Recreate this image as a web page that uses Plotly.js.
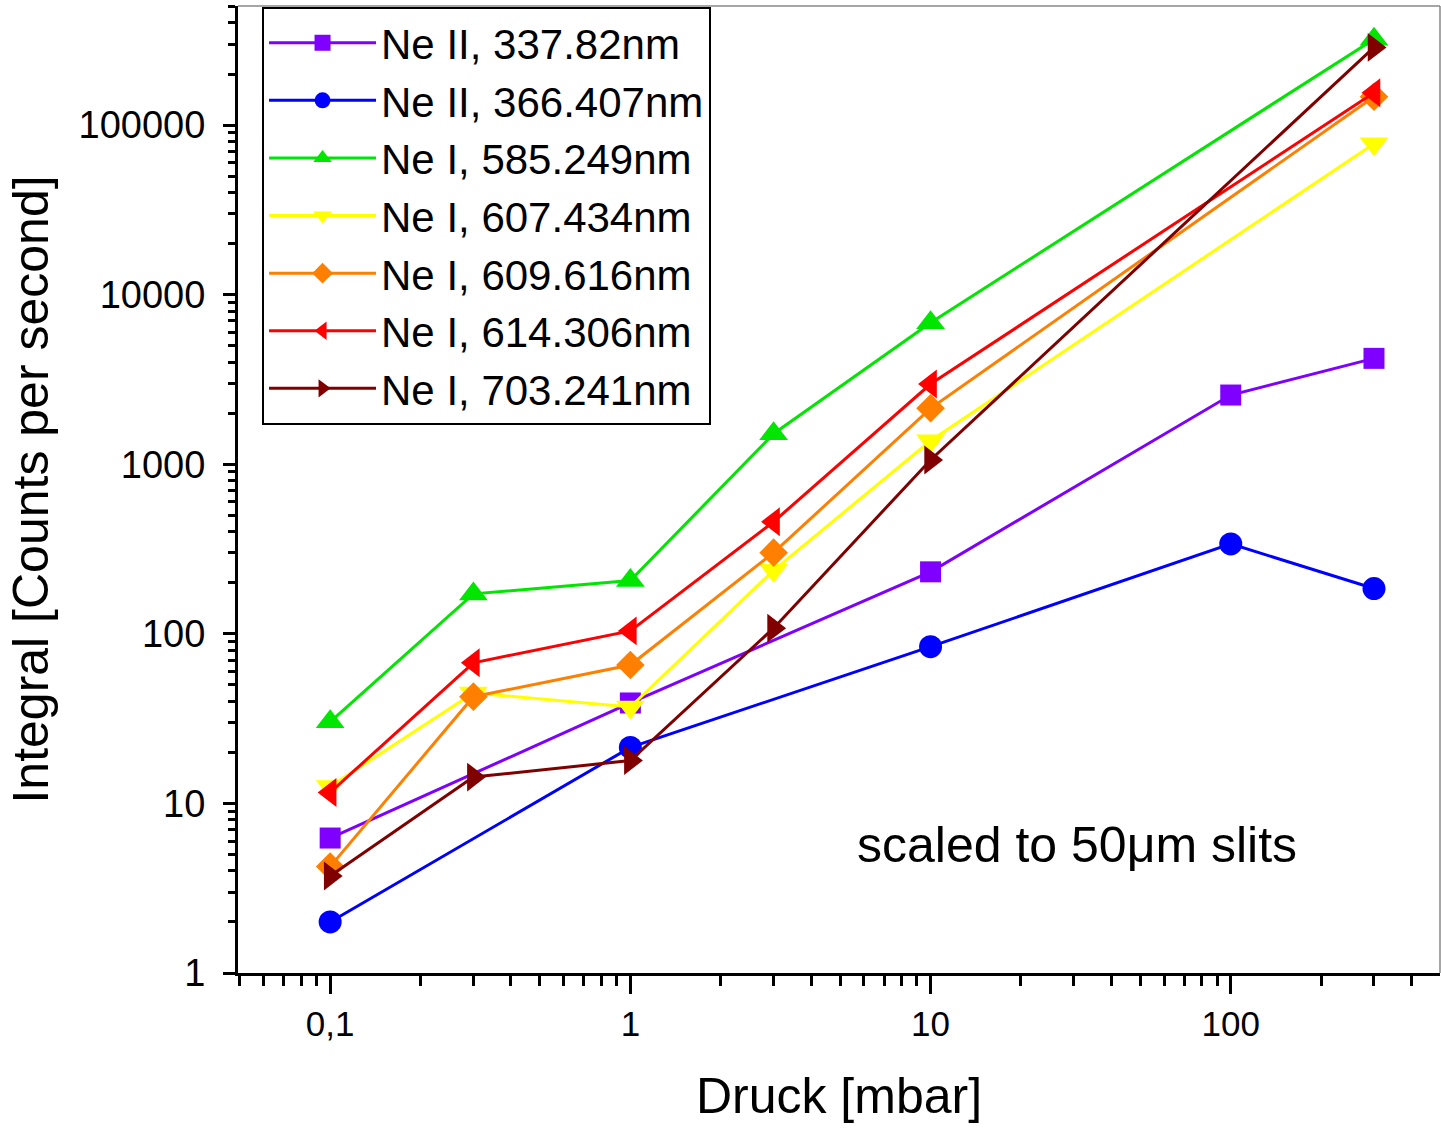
<!DOCTYPE html>
<html>
<head>
<meta charset="utf-8">
<script src="https://cdn.plot.ly/plotly-3.0.1.min.js"></script>
<style>html,body{margin:0;padding:0;background:#fff;}#chart{width:1441px;height:1128px;}</style>
</head>
<body>
<div id="chart"></div>
<script>
// Pressure values [mbar]
const pressure = [0.1, 0.3, 1, 3, 10, 100, 300];

// Series names
const seriesNames = [
  "Ne II, 337.82nm",
  "Ne II, 366.407nm",
  "Ne I, 585.249nm",
  "Ne I, 607.434nm",
  "Ne I, 609.616nm",
  "Ne I, 614.306nm",
  "Ne I, 703.241nm"
];

// Values (counts per second); null = no measurement
const neII_337 = [6.25, null, 39.1, null, 232, 2559, 4210];
const neII_366 = [2.0, null, 21.4, null, 84, 339, 185];
const neI_585  = [30.3, 172, 206, 1513, 6830, null, 321000];
const neI_607  = [12.6, 44.8, 37, 237, 1376, null, 77600];
const neI_609  = [4.24, 42.6, 65.5, 301, 2137, null, 147000];
const neI_614  = [11.6, 67.5, 104, 458, 2971, null, 155000];
const neI_703  = [3.73, 14.3, 17.9, 108, 1059, null, 287000];

const seriesValues = [neII_337, neII_366, neI_585, neI_607, neI_609, neI_614, neI_703];

const colors  = ["#7F00FF", "#0000FF", "#00E600", "#FFFF00", "#FF8000", "#FF0000", "#800000"];
const symbols = ["square", "circle", "triangle-up", "triangle-down", "diamond", "triangle-left", "triangle-right"];
const sizes   = [21, 23, 25, 25, 22, 25, 25];

const xTickVals = [0.1, 1, 10, 100];
const xTickText = ["0,1", "1", "10", "100"];
const yTickVals = [1, 10, 100, 1000, 10000, 100000];
const yTickText = ["1", "10", "100", "1000", "10000", "100000"];

const traces = seriesNames.map((name, i) => {
  const xs = [], ys = [];
  pressure.forEach((p, j) => {
    if (seriesValues[i][j] !== null) { xs.push(p); ys.push(seriesValues[i][j]); }
  });
  return {
    type: "scatter",
    mode: "lines+markers",
    name: name,
    x: xs,
    y: ys,
    line: {color: colors[i], width: 3},
    marker: {color: colors[i], symbol: symbols[i], size: sizes[i], line: {width: 0}}
  };
});

const FONT = "Liberation Sans, Arial, sans-serif";

const layout = {
  width: 1441,
  height: 1128,
  margin: {l: 238, r: 1, t: 6, b: 155, pad: 0},
  paper_bgcolor: "#ffffff",
  plot_bgcolor: "#ffffff",
  font: {family: FONT, color: "#000000"},
  showlegend: true,
  legend: {
    x: 0.02, y: 0.999, xanchor: "left", yanchor: "top",
    bgcolor: "#ffffff", bordercolor: "#000000", borderwidth: 2,
    font: {family: FONT, size: 42, color: "#000000"},
    itemwidth: 107,
    tracegroupgap: 0
  },
  xaxis: {
    type: "log",
    range: [-1.307, 2.697],
    showgrid: false, zeroline: false,
    showline: true, linecolor: "#000000", linewidth: 3,
    ticks: "outside", ticklen: 18, tickwidth: 3, tickcolor: "#000000",
    tickvals: xTickVals, ticktext: xTickText,
    tickfont: {family: FONT, size: 35, color: "#000000"},
    minor: {ticks: "outside", ticklen: 10, tickwidth: 3, tickcolor: "#000000", dtick: "D1", showgrid: false},
    title: {text: "Druck [mbar]", font: {family: FONT, size: 50, color: "#000000"}, standoff: 36},
    automargin: false
  },
  yaxis: {
    type: "log",
    range: [0, 5.702],
    showgrid: false, zeroline: false,
    showline: true, linecolor: "#000000", linewidth: 3,
    ticks: "outside", ticklen: 12, tickwidth: 3, tickcolor: "#000000",
    tickvals: yTickVals, ticktext: yTickText,
    tickfont: {family: FONT, size: 38, color: "#000000"},
    ticklabelstandoff: 10,
    minor: {ticks: "outside", ticklen: 7, tickwidth: 3, tickcolor: "#000000", dtick: "D1", showgrid: false},
    title: {text: "Integral [Counts per second]", font: {family: FONT, size: 50, color: "#000000"}, standoff: 15},
    automargin: false
  },
  shapes: [
    {type: "line", xref: "paper", yref: "paper", x0: 0, x1: 1, y0: 1, y1: 1, line: {color: "#888888", width: 1.5}},
    {type: "line", xref: "paper", yref: "paper", x0: 1, x1: 1, y0: 0, y1: 1, line: {color: "#888888", width: 1.5}}
  ],
  annotations: [
    {xref: "paper", yref: "paper", x: 0.698, y: 0.132, xanchor: "center", yanchor: "middle",
     text: "scaled to 50μm slits", showarrow: false,
     font: {family: FONT, size: 50, color: "#000000"}}
  ]
};

Plotly.newPlot("chart", traces, layout, {displayModeBar: false, staticPlot: true});
</script>
</body>
</html>
